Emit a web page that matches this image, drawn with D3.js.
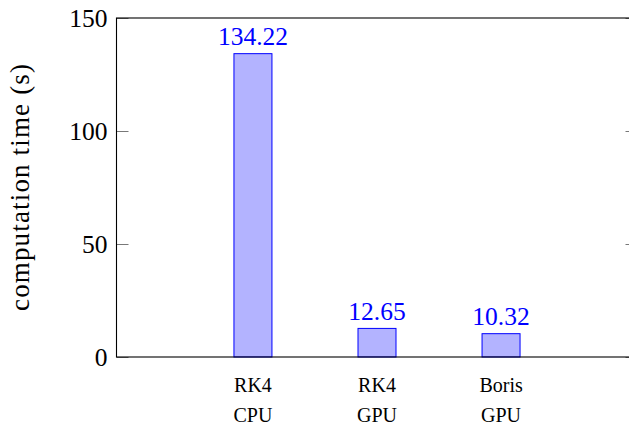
<!DOCTYPE html>
<html>
<head>
<meta charset="utf-8">
<script src="https://cdn.jsdelivr.net/npm/d3@7"></script>
<style>
  body { margin: 0; background: #fff; }
</style>
</head>
<body>
<div class="chart"></div>
<script>
//chart data
var methods = ["RK4", "RK4", "Boris"];
var devices = ["CPU", "GPU", "GPU"];
var times = [134.22, 12.65, 10.32];
var valueLabels = ["134.22", "12.65", "10.32"];
var yTicks = [0, 50, 100, 150];

//svg dimensions
var svgWidth = 629;
var svgHeight = 425;

//plot frame (right side runs past the picture edge)
var frame = { left: 116.5, right: 637.5, top: 18, bottom: 357 };

var svg = d3
  .select(".chart")
  .append("svg")
  .attr("width", svgWidth)
  .attr("height", svgHeight)
  .attr("font-family", "'Liberation Serif', 'DejaVu Serif', serif");

var keys = times.map((d, i) => "c" + i);

/********************************************/
var xScale = d3.scalePoint()
  .domain(keys)
  .range([frame.left, frame.right])
  .padding(1.1);

var yScale = d3.scaleLinear()
  .domain([0, 150])
  .range([frame.bottom, frame.top]);

var barWidth = 38;

/********************************************/
// bars
svg.selectAll(".bar")
  .data(times)
  .enter()
  .append("rect")
  .attr("class", "bar")
  .attr("x", (d, i) => xScale(keys[i]) - barWidth / 2)
  .attr("y", d => yScale(d))
  .attr("width", barWidth)
  .attr("height", d => yScale(0) - yScale(d))
  .attr("fill", "#b3b3ff")
  .attr("stroke", "#0000ff")
  .attr("stroke-width", 1);

// value labels
svg.selectAll(".val")
  .data(times)
  .enter()
  .append("text")
  .attr("class", "val")
  .attr("x", (d, i) => xScale(keys[i]))
  .attr("y", d => yScale(d) - 8.5)
  .attr("text-anchor", "middle")
  .attr("font-size", 25.5)
  .attr("fill", "#0000ff")
  .text((d, i) => valueLabels[i]);

/********************************************/
// y axis ticks (inward on both sides) and labels
var leftAxis = d3.axisRight(yScale)
  .tickValues(yTicks)
  .tickSize(12)
  .tickFormat("");

svg.append("g")
  .attr("transform", `translate(${frame.left}, 0)`)
  .call(leftAxis)
  .call(g => g.select(".domain").remove())
  .call(g => g.selectAll("line").attr("stroke", "#555").attr("stroke-width", 0.8));

var rightAxis = d3.axisLeft(yScale)
  .tickValues(yTicks)
  .tickSize(12)
  .tickFormat("");

svg.append("g")
  .attr("transform", `translate(${frame.right}, 0)`)
  .call(rightAxis)
  .call(g => g.select(".domain").remove())
  .call(g => g.selectAll("line").attr("stroke", "#555").attr("stroke-width", 0.8));

svg.selectAll(".ylab")
  .data(yTicks)
  .enter()
  .append("text")
  .attr("class", "ylab")
  .attr("x", frame.left - 9)
  .attr("y", d => yScale(d) + 8.5)
  .attr("text-anchor", "end")
  .attr("font-size", 25.5)
  .attr("fill", "#000")
  .text(d => d);

/********************************************/
// frame
svg.append("rect")
  .attr("x", frame.left)
  .attr("y", frame.top)
  .attr("width", frame.right - frame.left)
  .attr("height", frame.bottom - frame.top)
  .attr("fill", "none")
  .attr("stroke", "#000")
  .attr("stroke-width", 1.1);

/********************************************/
// x tick labels (two lines)
var xl = svg.selectAll(".xlab")
  .data(keys)
  .enter()
  .append("g")
  .attr("class", "xlab")
  .attr("transform", d => `translate(${xScale(d)}, 0)`);

xl.append("text")
  .attr("y", 392)
  .attr("text-anchor", "middle")
  .attr("font-size", 20)
  .attr("fill", "#000")
  .text((d, i) => methods[i]);

xl.append("text")
  .attr("y", 422)
  .attr("text-anchor", "middle")
  .attr("font-size", 20)
  .attr("fill", "#000")
  .text((d, i) => devices[i]);

// y axis title
svg.append("text")
  .attr("transform", `translate(29, ${(frame.top + frame.bottom) / 2}) rotate(-90)`)
  .attr("text-anchor", "middle")
  .attr("font-size", 27)
  .attr("textLength", 247)
  .attr("lengthAdjust", "spacing")
  .attr("fill", "#000")
  .text("computation time (s)");
</script>
</body>
</html>
